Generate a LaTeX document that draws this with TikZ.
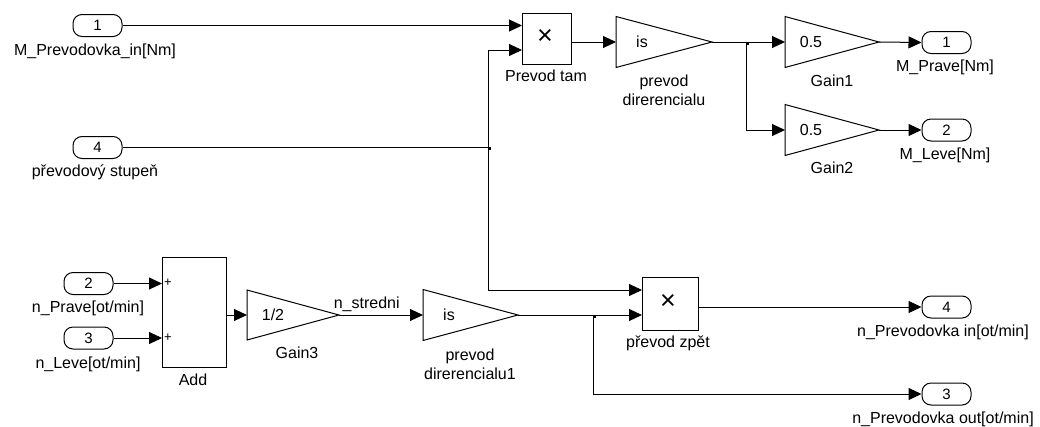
\documentclass[tikz,border=0pt]{standalone}
\usepackage{fontspec}
\setmainfont{Liberation Sans}
\usetikzlibrary{arrows.meta}
\newcommand\gainblk[6]{%
  \draw[blk] (#2,#3-#5) -- (#4,#3) -- (#2,#3+#5) -- cycle;
  \coordinate (#1-in) at (#2,#3);
  \coordinate (#1-out) at (#4,#3);
  \node[txt] (#1-t) at (#2+26,#3) {#6};
}
\begin{document}
\begin{tikzpicture}[x=1pt,y=-1pt,
  wire/.style={line width=1pt},
  sig/.style={line width=1pt,-{Triangle[length=13pt,width=12pt]}},
  blk/.style={draw,line width=1pt},
  rect/.style={draw,line width=1pt,inner sep=0pt},
  port/.style={draw,line width=1pt,rounded corners=9pt,minimum width=49pt,minimum height=22pt,inner sep=0pt,font=\fontsize{15}{15}\selectfont},
  lbl/.style={inner sep=0pt,font=\fontsize{16}{19}\selectfont},
  txt/.style={inner sep=0pt,font=\fontsize{16}{19}\selectfont},
  mul/.style={inner sep=0pt,font=\fontsize{27}{27}\selectfont},
  plus/.style={inner sep=0pt,font=\fontsize{13}{13}\selectfont},
  jdot/.style={fill,minimum size=3.5pt,inner sep=0pt}
]
\fill[white] (0,0) rectangle (1040,426);
\useasboundingbox (0,0) rectangle (1040,426);

% ---------- inports ----------
\node[port] (in1) at (97.5,25.5) {1};
\node[lbl] (in1l) at (95,51) {M\_Prevodovka\_in[Nm]};
\node[port] (in4) at (97.5,147.5) {4};
\node[lbl] (in4l) at (95,172) {převodový stupeň};
\node[port] (in2) at (88.5,283.5) {2};
\node[lbl] (in2l) at (88,308) {n\_Prave[ot/min]};
\node[port] (in3) at (88.5,338) {3};
\node[lbl] (in3l) at (88,364) {n\_Leve[ot/min]};

% ---------- outports ----------
\node[port] (out1) at (946.5,42.5) {1};
\node[lbl] (out1l) at (945,67) {M\_Prave[Nm]};
\node[port] (out2) at (946.5,130) {2};
\node[lbl] (out2l) at (945,155) {M\_Leve[Nm]};
\node[port] (out4) at (946.5,307) {4};
\node[lbl] (out4l) at (943,332) {n\_Prevodovka in[ot/min]};
\node[port] (out3) at (946.5,394) {3};
\node[lbl] (out3l) at (943,419) {n\_Prevodovka out[ot/min]};

% ---------- product blocks ----------
\node[rect,minimum width=49pt,minimum height=51pt] (pt) at (546.5,38.5) {};
\node[mul] (ptx) at (545,37) {×};
\node[lbl] (ptl) at (546,76) {Prevod tam};
\coordinate (pt-in1) at (522,25.5);
\coordinate (pt-in2) at (522,50);
\coordinate (pt-out) at (571,42);

\node[rect,minimum width=56pt,minimum height=53pt] (pz) at (670,303.5) {};
\node[mul] (pzx) at (668,302) {×};
\node[lbl] (pzl) at (668,343) {převod zpět};
\coordinate (pz-in1) at (642,290);
\coordinate (pz-in2) at (642,315);
\coordinate (pz-out) at (698,307);

% ---------- add block ----------
\node[rect,minimum width=64pt,minimum height=110pt] (add) at (194,312) {};
\node[plus] (addp1) at (168,283) {+};
\node[plus] (addp2) at (168,338) {+};
\node[lbl] (addl) at (193,380) {Add};
\coordinate (add-in1) at (162,283.5);
\coordinate (add-in2) at (162,338);
\coordinate (add-out) at (226,315);

% ---------- gains ----------
\gainblk{pd}{616}{42}{712}{25.5}{is}
\node[lbl,align=center] (pdl) at (664,90.5) {prevod\\direrencialu};
\gainblk{ga}{785}{42}{879}{25.5}{0.5}
\node[lbl] (gal) at (832,81) {Gain1};
\gainblk{gb}{785}{130}{879}{25.5}{0.5}
\node[lbl] (gbl) at (832,168) {Gain2};
\gainblk{gc}{247}{315}{339}{25}{1/2}
\node[lbl] (gcl) at (297,353) {Gain3};
\gainblk{pe}{423}{315}{518}{25.5}{is}
\node[lbl,align=center] (pel) at (470,364.5) {prevod\\direrencialu1};

% ---------- junctions ----------
\coordinate (j1) at (488,147.5);
\coordinate (j2) at (746,42);
\coordinate (j3) at (593,315);
\node[jdot] (j1d) at (489.5,148.5) {};
\node[jdot] (j2d) at (747.5,43.5) {};
\node[jdot] (j3d) at (594.5,316.5) {};

% ---------- wires ----------
\draw[sig] (in1.east) -- (pt-in1);
\draw[wire] (in4.east) -- (j1);
\draw[sig] (j1) |- (pt-in2);
\draw[sig] (j1) |- (pz-in1);
\draw[sig] (pt-out) -- (pd-in);
\draw[wire] (pd-out) -- (j2);
\draw[sig] (j2) -- (ga-in);
\draw[sig] (j2) |- (gb-in);
\draw[sig] (ga-out) -- (out1.west);
\draw[sig] (gb-out) -- (out2.west);

\draw[sig] (in2.east) -- (add-in1);
\draw[sig] (in3.east) -- (add-in2);
\draw[sig] (add-out) -- (gc-in);
\draw[sig] (gc-out) -- node[lbl,above=3pt,pos=0.33] (nstr) {n\_stredni} (pe-in);
\draw[wire] (pe-out) -- (j3);
\draw[sig] (j3) -- (pz-in2);
\draw[sig] (j3) |- (out3.west);
\draw[sig] (pz-out) -- (out4.west);
\end{tikzpicture}
\end{document}
